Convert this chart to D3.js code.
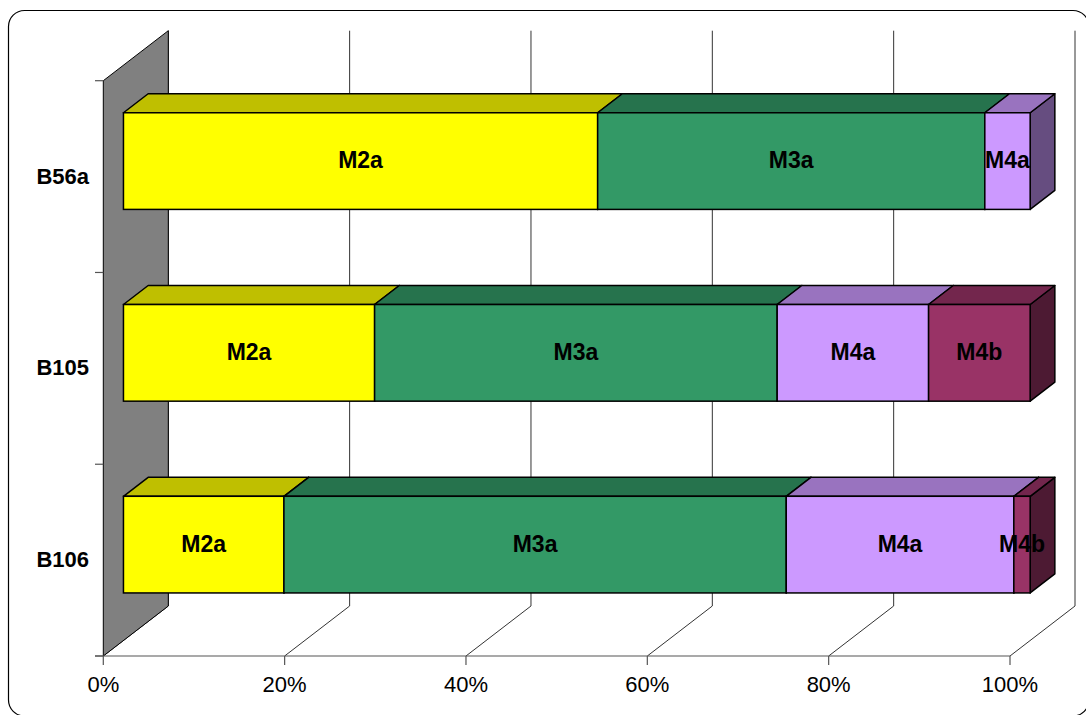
<!DOCTYPE html>
<html>
<head>
<meta charset="utf-8">
<script src="https://cdn.jsdelivr.net/npm/d3@7"></script>
<style>
  html, body { margin: 0; padding: 0; background: #fff; }
  svg { display: block; }
  text { font-family: "Liberation Sans", Arial, sans-serif; }
</style>
</head>
<body>
<svg id="chart" width="1086" height="715"></svg>
<script>
// ---- data ----
const categories = ["B56a", "B105", "B106"];
const seriesNames = ["M2a", "M3a", "M4a", "M4b"];
const M2a = [52.3, 27.7, 17.7];
const M3a = [42.7, 44.4, 55.4];
const M4a = [5.0, 16.7, 25.1];
const M4b = [0.0, 11.2, 1.8];
const tickLabels = ["0%", "20%", "40%", "60%", "80%", "100%"];
const seriesColors = ["#FFFF00", "#339966", "#CC99FF", "#993366"];

const seriesValues = [M2a, M3a, M4a, M4b];

// ---- geometry ----
const svg = d3.select("#chart");
const frontLeft = 103.3, frontRight = 1010, frontTop = 80.7, frontBottom = 656;
const wallDX = 65, wallDY = -50;      // total depth offset
const barD0 = 0.31, barD1 = 0.69;      // bar depth range (fraction of depth)

const x = d3.scaleLinear().domain([0, 1]).range([frontLeft, frontRight]);
const y = d3.scaleBand().domain(categories).range([frontTop, frontBottom])
  .paddingInner(0.496).paddingOuter(0.248);

// outer border
svg.append("rect").attr("x", 8.5).attr("y", 10.5).attr("width", 1080.5).attr("height", 705.5)
  .attr("rx", 16).attr("ry", 16).attr("fill", "#fff").attr("stroke", "#000").attr("stroke-width", 1.2);

const tickVals = d3.range(0, 1.0001, 0.2);

// back wall gridlines & floor lines
const grid = svg.append("g").attr("stroke", "#333").attr("stroke-width", 1).attr("fill", "none");
tickVals.forEach(v => {
  const xf = x(v), xb = x(v) + wallDX;
  grid.append("path").attr("d",
    `M${xf},${frontBottom} L${xb},${frontBottom + wallDY} L${xb},${frontTop + wallDY}`);
});

// left wall
const wall = [[frontLeft, frontTop], [frontLeft + wallDX, frontTop + wallDY],
  [frontLeft + wallDX, frontBottom + wallDY], [frontLeft, frontBottom]];
svg.append("path").attr("d", d3.line()(wall) + "Z")
  .attr("fill", "#808080").attr("stroke", "#000").attr("stroke-width", 1);

// front floor edge + ticks
svg.append("line").attr("x1", 95).attr("x2", frontRight).attr("y1", frontBottom).attr("y2", frontBottom)
  .attr("stroke", "#555").attr("stroke-width", 1.2);
tickVals.forEach(v => {
  svg.append("line").attr("x1", x(v)).attr("x2", x(v)).attr("y1", frontBottom).attr("y2", frontBottom + 9)
    .attr("stroke", "#555").attr("stroke-width", 1.2);
});
// category ticks
const catTicks = [frontTop].concat(categories.map(c => y(c) - y.step() * y.paddingInner() / 2 + y.step()));
catTicks.forEach(t => {
  svg.append("line").attr("x1", 95).attr("x2", frontLeft).attr("y1", t).attr("y2", t)
    .attr("stroke", "#555").attr("stroke-width", 1.2);
});

// x tick labels
svg.append("g").selectAll("text").data(tickVals).join("text")
  .attr("x", d => x(d)).attr("y", 692)
  .attr("text-anchor", "middle").attr("font-size", 22).attr("fill", "#000")
  .text((d, i) => tickLabels[i]);

// category labels
svg.append("g").selectAll("text").data(categories).join("text")
  .attr("x", 89).attr("y", d => y(d) + y.bandwidth() / 2 + 7)
  .attr("text-anchor", "end").attr("font-size", 22).attr("font-weight", "bold").attr("fill", "#000")
  .text(d => d);

function shade(c, k) {
  const r = d3.rgb(c);
  return d3.rgb(r.r * k, r.g * k, r.b * k).formatHex();
}

// bars
const fdx = wallDX * barD0, fdy = wallDY * barD0;
const bdx = wallDX * barD1, bdy = wallDY * barD1;
const barG = svg.append("g");
categories.forEach((cat, ci) => {
  let cum = 0;
  const yt = y(cat) + fdy, yb = y(cat) + y.bandwidth() + fdy;
  const g = barG.append("g");
  const labels = [];
  const ddx = bdx - fdx, ddy = bdy - fdy;
  seriesNames.forEach((s, si) => {
    const v = seriesValues[si][ci] / 100;
    if (v <= 0) return;
    const x0 = x(cum) + fdx, x1 = x(cum + v) + fdx;
    cum += v;
    const col = seriesColors[si];
    // side face
    g.append("path").attr("d", d3.line()([[x1, yt], [x1 + ddx, yt + ddy], [x1 + ddx, yb + ddy], [x1, yb]]) + "Z")
      .attr("fill", shade(col, 0.5)).attr("stroke", "#000").attr("stroke-width", 1.5).attr("stroke-linejoin", "round");
    // top face
    g.append("path").attr("d", d3.line()([[x0, yt], [x0 + ddx, yt + ddy], [x1 + ddx, yt + ddy], [x1, yt]]) + "Z")
      .attr("fill", shade(col, 0.75)).attr("stroke", "#000").attr("stroke-width", 1.5).attr("stroke-linejoin", "round");
    // front face
    g.append("rect").attr("x", x0).attr("y", yt).attr("width", x1 - x0).attr("height", yb - yt)
      .attr("fill", col).attr("stroke", "#000").attr("stroke-width", 1.5);
    labels.push({ s, cx: (x0 + x1) / 2, cy: (yt + yb) / 2 });
  });
  g.selectAll("text.lbl").data(labels).join("text").attr("class", "lbl")
    .attr("x", d => d.cx).attr("y", d => d.cy + 7)
    .attr("text-anchor", "middle").attr("font-size", 23).attr("font-weight", "bold").attr("fill", "#000")
    .text(d => d.s);
});
</script>
</body>
</html>
